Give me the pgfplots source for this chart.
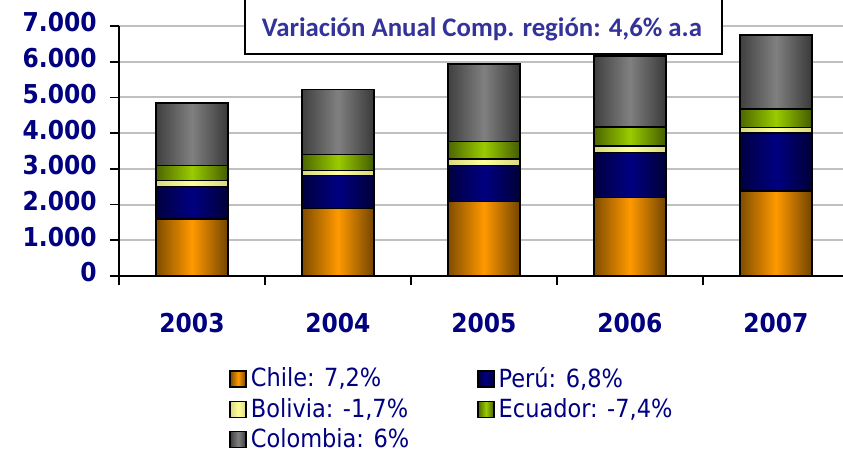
\documentclass[border=0pt]{standalone}
\usepackage{fontspec}
\usepackage{pgfplots}
\usepackage{pgfplotstable}
\pgfplotsset{compat=1.18}
\newfontfamily\dvc{DejaVu Sans Condensed}
\newfontfamily\calib{Carlito}
\definecolor{tickblue}{RGB}{0,0,128}
\definecolor{titleblue}{RGB}{51,51,153}
\definecolor{gridgray}{RGB}{192,192,192}
\definecolor{cChile}{RGB}{255,153,0}
\definecolor{cPeru}{RGB}{0,0,128}
\definecolor{cBol}{RGB}{255,255,153}
\definecolor{cEcu}{RGB}{153,204,0}
\definecolor{cCol}{RGB}{128,128,128}

% segment sizes per year
\pgfplotstableread{
x chile peru bolivia ecuador colombia
0 1600  900 170 430 1745
1 1895  915 150 440 1820
2 2080 1020 180 480 2170
3 2200 1260 180 530 1990
4 2380 1630 150 510 2080
}\data

\pgfplotsset{
  sq/.style={legend image code/.code={%
    \draw[##1, draw=black, line width=0.7pt] (0pt,-4pt) rectangle (8pt,4pt);}},
  sChile/.style={left color=cChile!50!black, right color=cChile!45!black, middle color=cChile},
  sPeru/.style={left color=cPeru!50!black, right color=cPeru!45!black, middle color=cPeru},
  sBol/.style={left color=cBol!85!black, right color=cBol!85!black, middle color=cBol},
  sEcu/.style={left color=cEcu!50!black, right color=cEcu!45!black, middle color=cEcu},
  sCol/.style={left color=cCol!50!black, right color=cCol!45!black, middle color=cCol},
}

% one bar per year so that each bar gets its own shading; tallest layers first
\newcommand\layer[2]{%
  \pgfplotsinvokeforeach{0,...,4}{%
    \addplot[ybar, bar shift=0pt, bar width=36pt, draw=black, line width=0.75pt, #1, forget plot]
      table[x=x, y expr={#2}, restrict x to domain=##1:##1] {\data};
  }}

\begin{document}
\begin{tikzpicture}
\path[use as bounding box] (0,0) rectangle (421.5pt,-225.5pt);
\begin{axis}[
  at={(59.5pt,-138pt)}, anchor=south west,
  scale only axis, width=362pt, height=125pt,
  xmin=-0.5, xmax=4.46, ymin=0, ymax=7000,
  axis x line=bottom, axis y line=left,
  axis line style={line width=0.9pt, -},
  xtick={0,1,2,3,4}, xticklabels={2003,2004,2005,2006,2007},
  major x tick style={draw=none},
  minor xtick={-0.5,0.5,1.5,2.5,3.5},
  ytick={0,1000,...,7000},
  /pgf/number format/1000 sep={.},
  /pgf/number format/assume math mode=true,
  tick align=outside,
  tick style={black, line width=0.9pt},
  major tick length=4.5pt, minor tick length=4.5pt,
  ymajorgrids, grid style={gridgray, line width=1pt},
  ticklabel style={font=\fontsize{13}{15}\selectfont\dvc\bfseries, text=tickblue, inner sep=0pt},
  xticklabel style={anchor=north, yshift=-13.85pt},
  yticklabel style={anchor=east, xshift=-6.5pt, yshift=1.75pt},
  legend columns=2,
  legend style={at={(0.152,-0.348)}, anchor=north west, draw=none, fill=none,
    inner sep=0pt, font=\fontsize{12.5}{14}\selectfont\dvc, text=tickblue,
    row sep=0pt, cells={anchor=west},
    /tikz/every even column/.append style={column sep=32pt}},
]
\layer{sCol}{\thisrow{chile}+\thisrow{peru}+\thisrow{bolivia}+\thisrow{ecuador}+\thisrow{colombia}}
\layer{sEcu}{\thisrow{chile}+\thisrow{peru}+\thisrow{bolivia}+\thisrow{ecuador}}
\layer{sBol}{\thisrow{chile}+\thisrow{peru}+\thisrow{bolivia}}
\layer{sPeru}{\thisrow{chile}+\thisrow{peru}}
\layer{sChile}{\thisrow{chile}}
\addlegendimage{sq, sChile}\addlegendentry{Chile: 7,2\%}
\addlegendimage{sq, sPeru}\addlegendentry{Perú: 6,8\%}
\addlegendimage{sq, sBol}\addlegendentry{Bolivia: -1,7\%}
\addlegendimage{sq, sEcu}\addlegendentry{Ecuador: -7,4\%}
\addlegendimage{sq, sCol}\addlegendentry{Colombia: 6\%}
\end{axis}
\fill[white] (122.5pt,2pt) rectangle (361pt,-27pt);
\draw[line width=1pt] (122.5pt,2pt) -- (122.5pt,-27pt) -- (361pt,-27pt) -- (361pt,2pt);
\node[font=\fontsize{13.4}{15}\selectfont\calib\bfseries, text=titleblue, anchor=base]
  at (241pt,-18pt) {Variación Anual Comp. región: 4,6\% a.a};
\end{tikzpicture}
\end{document}
